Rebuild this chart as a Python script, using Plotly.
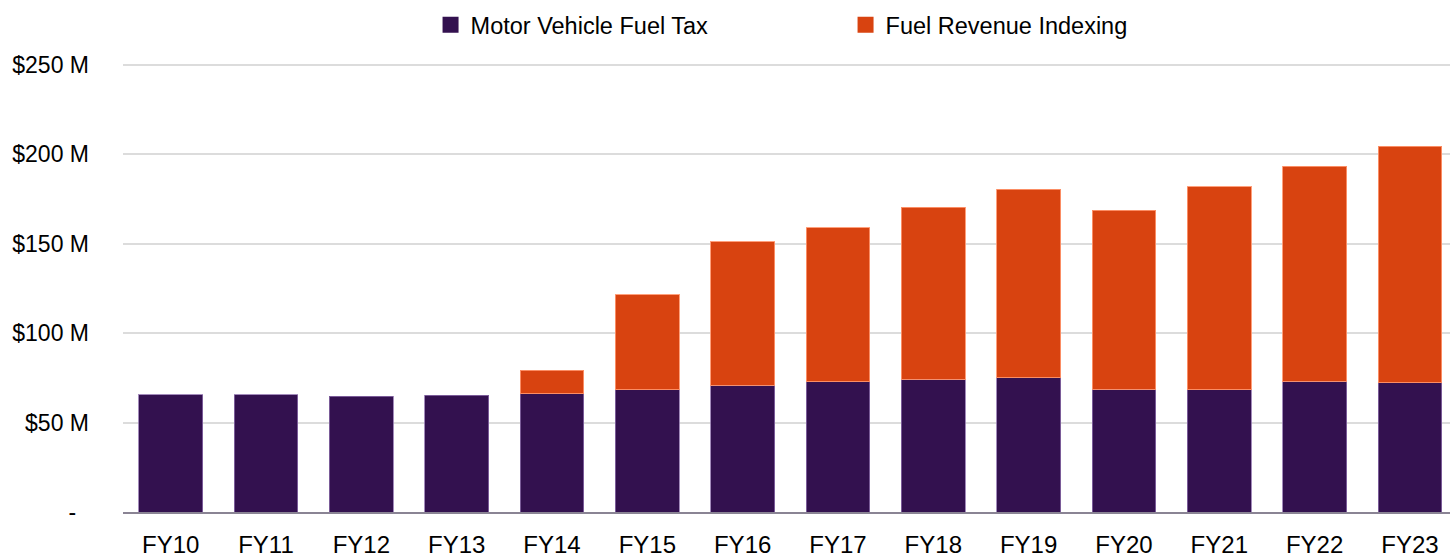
import plotly.graph_objects as go

years = ["FY10", "FY11", "FY12", "FY13", "FY14", "FY15", "FY16",
         "FY17", "FY18", "FY19", "FY20", "FY21", "FY22", "FY23"]
motor_fuel_tax = [65.4, 65.4, 64.8, 65.3, 66.1, 68.4, 70.8,
                  72.8, 74.1, 75.1, 68.6, 68.2, 73.2, 72.3]
totals = [65.4, 65.4, 64.8, 65.3, 79.2, 121.5, 151.1,
          158.7, 170.4, 180.3, 168.5, 181.6, 193.3, 204.5]
fuel_revenue_indexing = [round(t - m, 1) if t > m else None for t, m in zip(totals, motor_fuel_tax)]

tick_vals = [0, 50, 100, 150, 200, 250]
tick_text = ["-\u00a0\u00a0", "$50 M", "$100 M", "$150 M", "$200 M", "$250 M"]

PURPLE = "#33114F"
ORANGE = "#D84310"
FONT = "Liberation Sans, Arial, sans-serif"

fig = go.Figure()
fig.add_trace(go.Bar(x=years, y=motor_fuel_tax, name="Motor Vehicle Fuel Tax",
                     marker=dict(color=PURPLE, line=dict(color="rgba(140,110,170,0.8)", width=1)),
                     showlegend=False))
fig.add_trace(go.Bar(x=years, y=fuel_revenue_indexing, name="Fuel Revenue Indexing",
                     marker=dict(color=ORANGE, line=dict(color="rgba(255,150,110,0.9)", width=1)),
                     showlegend=False))
# legend entries
fig.add_trace(go.Scatter(x=[None], y=[None], mode="markers", name="Motor Vehicle Fuel Tax",
                         marker=dict(symbol="square", size=16, color=PURPLE)))
fig.add_trace(go.Scatter(x=[None], y=[None], mode="markers", name="Fuel Revenue Indexing",
                         marker=dict(symbol="square", size=16, color=ORANGE)))

fig.update_layout(
    width=1450, height=558,
    margin=dict(l=123, r=0, t=61, b=46, autoexpand=False),
    barmode="stack", bargap=0.33,
    plot_bgcolor="white", paper_bgcolor="white",
    font=dict(family=FONT, color="#000000", size=23),
    legend=dict(orientation="h", x=0.5445, xanchor="center", y=1.08, yanchor="middle",
                font=dict(size=23.5, family=FONT, color="#000000"),
                entrywidth=370, itemsizing="trace", traceorder="normal",
                bgcolor="rgba(0,0,0,0)"),
    xaxis=dict(range=[-0.5, 13.42], showgrid=False, showline=True, linecolor="#8A8494",
               linewidth=2, ticks="", tickfont=dict(size=24), ticklabelstandoff=10,
               automargin=False, fixedrange=True),
    yaxis=dict(range=[0, 252], tickvals=tick_vals, ticktext=tick_text,
               showgrid=True, gridcolor="#DCDCDC", gridwidth=1.5, zeroline=False,
               showline=False, ticks="", tickfont=dict(size=23), ticklabelstandoff=33,
               automargin=False, fixedrange=True),
    showlegend=True,
)

fig.write_html("out.html")
